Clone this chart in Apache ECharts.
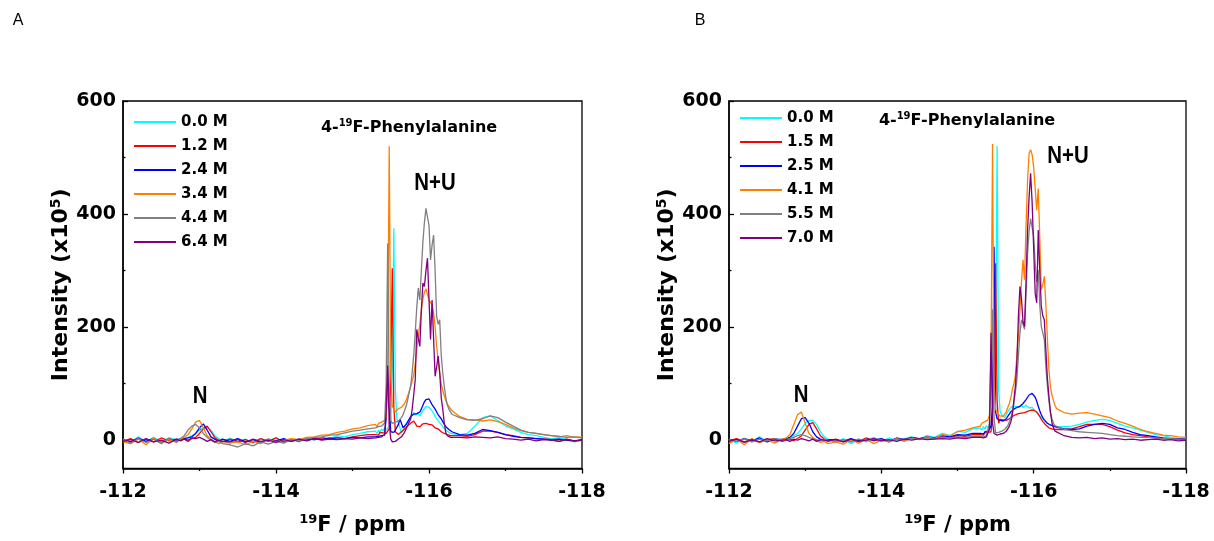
<!DOCTYPE html>
<html><head><meta charset="utf-8">
<script src="https://cdn.jsdelivr.net/npm/echarts@6/dist/echarts.min.js"></script>
<style>html,body{margin:0;padding:0;background:#fff}#c{width:1214px;height:541px}</style>
</head><body><div id="c"></div>
<script>
// chemical shift grid (ppm)
const ppm = [
-112.0,-112.1,-112.2,-112.3,-112.4,-112.5,-112.6,-112.7,
-112.75,-112.8,-112.85,-112.9,-112.95,-113.0,-113.05,-113.1,-113.15,-113.2,-113.25,-113.3,
-113.4,-113.5,-113.6,-113.7,-113.8,-113.9,-114.0,-114.1,-114.2,-114.3,-114.4,-114.5,-114.6,-114.7,-114.8,-114.9,-115.0,-115.1,-115.2,
-115.30,-115.32,-115.34,-115.36,-115.38,-115.40,-115.42,-115.44,-115.46,-115.48,
-115.50,-115.52,-115.54,-115.56,-115.58,-115.60,-115.62,-115.64,-115.66,-115.68,
-115.70,-115.72,-115.74,-115.76,-115.78,-115.80,-115.82,-115.84,-115.86,-115.88,
-115.90,-115.92,-115.94,-115.96,-115.98,-116.00,-116.02,-116.04,-116.06,-116.08,
-116.10,-116.12,-116.14,-116.16,-116.18,-116.20,-116.22,-116.24,-116.26,-116.28,
-116.30,
-116.4,-116.5,-116.6,-116.7,-116.8,-116.9,-117.0,-117.1,-117.2,-117.3,-117.4,-117.5,-117.6,-117.7,-117.8,-117.9,-118.0
];

// Panel A intensities (x10^5)
const A_00 = [2,-4,6,-3,5,-2,4,1,
 3,2,5,8,12,18,22,22,18,8,3,-2,
 4,-3,2,-5,3,-2,5,-4,2,-3,4,0,5,3,8,6,10,12,15,
 16,12,18,14,20,16,22,18,20,25, 30,120,375,90,37,30,22,13,15,22,
 28,33,37,40,45,49,45,43,47,43, 48,52,56,60,62,58,55,52,48,42,
 38,34,32,28,24,20,18,16,14,12, 11,
 10,12,25,40,43,35,25,20,14,10,8,5,3,4,2,-3,1];
const A_12 = [-2,3,-4,2,-3,4,-1,2,
 0,2,-2,3,5,12,20,25,15,5,0,-3,
 2,-3,1,-4,3,-2,4,-3,1,-2,3,1,4,2,5,3,6,8,10,
 10,12,9,14,11,13,15,12,14,20, 120,304,60,15,13,10,12,15,18,20,
 22,25,27,30,33,34,30,25,27,24, 27,29,31,30,32,28,25,27,24,22,
 19,20,17,15,13,12,11,10,9,8, 8,
 8,7,10,16,16,14,10,8,5,4,3,2,1,-2,2,-1,0];
const A_24 = [1,-3,4,-2,3,-4,2,0,
 2,3,4,6,12,22,29,18,6,2,-2,2,
 -2,3,-3,1,-4,2,-1,3,-2,2,0,3,1,4,2,3,5,4,6,
 6,5,7,6,8,7,9,40,125,60, 15,12,14,18,19,28,37,30,22,24,
 28,32,37,42,45,46,44,47,49,50, 55,62,68,72,75,73,68,63,60,55,
 50,45,43,38,33,28,24,21,19,17, 15,
 10,9,12,19,17,14,10,7,5,4,3,2,1,2,0,-1,1];
const A_34 = [-3,-6,2,-8,4,-5,1,-4,
 2,5,10,20,32,35,22,8,2,-3,-6,-2,
 -5,-3,-8,-2,-6,2,-3,0,3,1,5,6,9,10,14,16,20,22,26,
 28,24,30,27,32,30,35,40,150,520, 120,60,55,50,52,56,54,58,60,65,
 70,78,85,95,105,115,135,160,185,205, 230,250,262,268,258,248,245,240,225,200,
 166,140,118,100,88,78,70,64,60,56, 52,
 42,37,36,34,36,33,28,22,17,14,12,10,8,6,8,5,6];
const A_44 = [1,-5,3,-4,2,-6,4,-3,
 3,8,18,25,28,22,12,5,0,-4,-2,-6,
 -8,-12,-6,-10,-3,-7,-2,-5,1,-1,3,5,6,9,10,13,16,18,20,
 22,20,24,22,25,24,30,100,348,80, 35,30,28,32,30,34,36,40,45,52,
 60,70,85,96,120,150,190,235,269,248, 300,350,385,410,408,380,319,345,363,300,
 219,205,213,150,119,95,75,62,55,50, 46,
 40,36,35,38,43,40,32,25,18,14,12,10,8,7,5,6,4];
const A_64 = [-2,1,-4,3,-3,0,-5,2,
 -1,2,0,4,3,5,2,-2,1,-3,0,-2,
 -3,1,-4,2,-2,0,-4,1,-2,2,-1,3,0,2,1,3,2,4,3,
 4,3,5,4,6,5,10,50,132,30, 2,-3,-5,-2,0,2,4,6,10,14,
 20,26,32,37,55,80,107,196,180,166, 230,278,272,300,322,250,178,248,180,113,
 130,149,120,75,55,30,13,8,6,5, 5,
 5,4,6,5,4,6,3,2,0,2,-1,1,0,-2,1,-1,0];

// Panel B intensities (x10^5)
const B_00 = [2,-5,4,-3,6,-2,3,0,
 2,4,8,12,20,30,35,35,28,15,6,2,
 -4,3,-6,2,-3,5,-2,4,-1,3,6,2,8,5,12,8,16,14,20,
 22,18,24,20,26,22,25,24,28,30, 150,520,90,50,45,43,40,45,50,55,
 58,60,58,60,62,58,60,62,58,60, 62,60,57,55,58,55,52,50,46,43,
 40,38,35,32,30,28,27,26,25,25, 24,
 24,25,28,32,35,37,35,30,25,22,18,14,10,8,5,3,2];
const B_15 = [-1,3,-3,2,-4,1,3,-2,
 0,2,-1,3,8,18,28,31,20,8,2,-2,
 2,-3,1,-2,4,-1,2,-3,3,0,4,2,5,3,6,5,8,7,10,
 10,12,9,13,11,14,12,15,18,80, 313,70,30,37,35,36,37,35,37,38,
 40,42,44,45,46,47,48,48,50,49, 50,51,52,53,52,53,52,50,46,42,
 37,33,30,27,24,22,21,20,20,19, 19,
 19,20,24,28,28,28,24,18,13,10,8,6,4,3,3,2,1];
const B_25 = [2,-2,3,-1,4,-3,1,2,
 3,5,12,25,38,40,30,15,6,2,0,1,
 1,-2,3,-1,2,0,3,-2,4,1,5,3,6,4,8,6,10,9,12,
 12,14,11,15,13,16,20,25,60,342, 50,38,37,35,36,34,36,38,42,46,
 50,53,55,57,58,60,60,62,65,68, 72,76,80,82,83,81,76,69,60,52,
 45,40,36,33,30,28,27,26,25,24, 23,
 20,19,20,25,28,30,28,22,19,14,10,8,6,4,3,3,2];
const B_41 = [-6,2,-8,3,-4,1,-5,2,
 4,10,28,45,50,30,12,5,0,-4,-2,-6,
 -3,-7,1,-5,2,-6,0,-3,3,-2,4,1,6,3,10,8,15,18,22,
 25,30,28,33,31,36,45,150,524,100, 55,48,45,43,44,42,46,50,58,65,
 75,90,100,115,150,184,230,280,319,284, 380,460,507,514,505,483,445,407,445,360,
 266,275,290,240,180,125,95,80,70,62, 56,
 49,46,48,49,46,43,40,34,30,25,19,15,12,9,8,6,5];
const B_55 = [1,-2,3,-3,2,-1,3,0,
 1,3,5,8,10,8,5,3,1,-1,2,0,
 -2,1,-3,2,-1,3,0,-2,2,1,3,2,4,3,5,4,6,5,7,
 7,8,6,9,8,10,30,100,231,40, 13,12,14,13,16,18,19,22,26,32,
 40,49,65,85,107,150,190,213,205,196, 260,330,370,392,395,360,313,280,301,240,
 201,190,178,130,96,70,49,38,30,26, 24,
 19,17,15,14,13,12,10,8,7,6,5,5,4,3,3,2,2];
const B_70 = [-2,2,-4,1,-3,3,-1,0,
 1,-2,2,0,3,1,-1,2,-2,1,0,-1,
 1,-3,2,-2,0,3,-1,1,-2,2,0,3,1,2,3,2,4,3,5,
 5,6,4,7,6,6,20,190,30,12, 10,9,10,11,10,12,14,16,20,25,
 32,45,70,96,140,220,272,250,210,201, 280,372,430,472,420,340,260,243,372,300,
 237,220,213,160,110,78,50,31,22,16, 13,
 8,5,4,5,3,4,2,3,1,2,0,1,2,0,1,-1,0];

const namesA = ['0.0 M','1.2 M','2.4 M','3.4 M','4.4 M','6.4 M'];
const namesB = ['0.0 M','1.5 M','2.5 M','4.1 M','5.5 M','7.0 M'];
const valuesA = [A_00, A_12, A_24, A_34, A_44, A_64];
const valuesB = [B_00, B_15, B_25, B_41, B_55, B_70];
const colors = ['#00FFFF','#FF0000','#0000FF','#FF8000','#808080','#800080'];

const xMajor = [-118,-116,-114,-112];
const xMinor = [-117,-115,-113];
const yMajor = [0,200,400,600];
const yMinor = [100,300,500];

const FW = '"DejaVu Sans", sans-serif';
const FA = '"Liberation Sans", Arial, sans-serif';

function supRich(fs, sfs, lh){
  return {s:{fontSize:sfs, fontWeight:'bold', fontFamily:FW, verticalAlign:'top', lineHeight:lh},
          n:{fontSize:fs, fontWeight:'bold', fontFamily:FW, lineHeight:lh}};
}

function xAxes(gi){
  return [{
    gridIndex: gi, type:'value', position:'bottom', min:-118, max:-112, inverse:true,
    axisLine:{show:true, onZero:false, lineStyle:{color:'#000', width:1.5}},
    axisTick:{show:true, inside:false, length:5, customValues:xMajor, lineStyle:{color:'#000', width:1.3}},
    axisLabel:{customValues:xMajor, fontSize:19, fontWeight:'bold', color:'#000', fontFamily:FW, margin:14},
    splitLine:{show:false},
    name:'{s|19}{n|F / ppm}', nameLocation:'middle', nameGap:45,
    nameTextStyle:{color:'#000', fontFamily:FW, fontWeight:'bold', rich:supRich(21,13,24)}
  },{
    gridIndex: gi, type:'value', position:'bottom', offset:0, min:-118, max:-112, inverse:true,
    axisLine:{show:false, onZero:false}, axisLabel:{show:false}, splitLine:{show:false},
    axisTick:{show:true, inside:false, length:2.5, customValues:xMinor, lineStyle:{color:'#000', width:1.3}}
  }];
}
function yAxes(gi){
  return [{
    gridIndex: gi, type:'value', position:'left', min:-50, max:600,
    axisLine:{show:true, onZero:false, lineStyle:{color:'#000', width:1.5}},
    axisTick:{show:true, inside:true, length:5, customValues:yMajor, lineStyle:{color:'#000', width:1.3}},
    axisLabel:{customValues:yMajor, fontSize:19, fontWeight:'bold', color:'#000', fontFamily:FW, margin:7},
    splitLine:{show:false},
    name:'{n|Intensity (x10}{s|5}{n|)}', nameLocation:'middle', nameGap:48,
    nameTextStyle:{color:'#000', fontFamily:FW, fontWeight:'bold', rich:supRich(22,14,24)}
  },{
    gridIndex: gi, type:'value', position:'left', offset:0, min:-50, max:600,
    axisLine:{show:false, onZero:false}, axisLabel:{show:false}, splitLine:{show:false},
    axisTick:{show:true, inside:true, length:2.5, customValues:yMinor, lineStyle:{color:'#000', width:1.3}}
  }];
}

const series = [];
namesA.forEach((n,i)=>{
  series.push({name:n, type:'line', xAxisIndex:0, yAxisIndex:0, showSymbol:false, symbol:'none',
    lineStyle:{width:1.3, color:colors[i]}, itemStyle:{color:colors[i]},
    data: ppm.map((x,k)=>[x, valuesA[i][k]]), animation:false});
});
namesB.forEach((n,i)=>{
  series.push({name:n, type:'line', xAxisIndex:2, yAxisIndex:2, showSymbol:false, symbol:'none',
    lineStyle:{width:1.3, color:colors[i]}, itemStyle:{color:colors[i]},
    data: ppm.map((x,k)=>[x, valuesB[i][k]]), animation:false});
});

function legendCfg(names, left, top){
  return {orient:'vertical', left:left, top:top, data:names, icon:'rect', itemWidth:42, itemHeight:2,
    itemGap:6, itemTextGap:6, selectedMode:false, padding:0,
    textStyle:{fontSize:15, fontWeight:'bold', color:'#000', fontFamily:FW, lineHeight:18}};
}

function phe(x, y){
  return {type:'text', x:x, y:y, style:{text:'{n|4-}{s|19}{n|F-Phenylalanine}', fontFamily:FW, fontWeight:'bold',
    fill:'#000', align:'center', verticalAlign:'middle', rich:supRich(16,10,19)}};
}
function lab(x, y, t){
  return {type:'text', x:x, y:y, scaleX:0.85, style:{text:t, fontSize:24, fontWeight:'bold', fontFamily:FA, fill:'#000',
    align:'center', verticalAlign:'middle'}};
}

const chart = echarts.init(document.getElementById('c'), null, {renderer:'canvas'});
chart.setOption({
  animation:false,
  backgroundColor:'#fff',
  grid:[
    {left:123, right:632, top:101, bottom:70, show:true, borderColor:'#000', borderWidth:1.3, backgroundColor:'transparent'},
    {left:729, right:28, top:101, bottom:70, show:true, borderColor:'#000', borderWidth:1.3, backgroundColor:'transparent'}
  ],
  xAxis:[...xAxes(0), ...xAxes(1)],
  yAxis:[...yAxes(0), ...yAxes(1)],
  legend:[legendCfg(namesA, 134, 113), legendCfg(namesB, 740, 109)],
  series: series,
  graphic:[
    {type:'text', x:18, y:21, style:{text:'A', fontSize:16, fontFamily:FA, fill:'#000', align:'center', verticalAlign:'middle'}},
    {type:'text', x:700, y:21, style:{text:'B', fontSize:16, fontFamily:FA, fill:'#000', align:'center', verticalAlign:'middle'}},
    phe(409, 128),
    phe(967, 121),
    lab(435, 183, 'N+U'),
    lab(1068, 156, 'N+U'),
    lab(200, 396, 'N'),
    lab(801, 395, 'N')
  ]
});
</script></body></html>
